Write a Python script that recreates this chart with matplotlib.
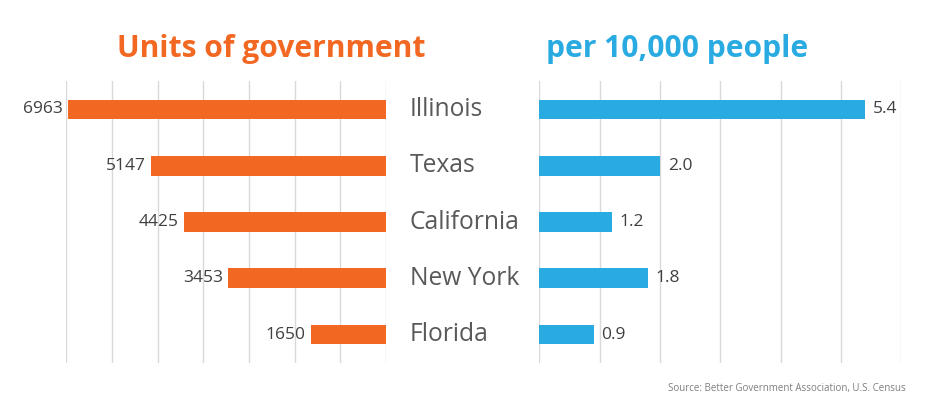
import numpy as np
import matplotlib
matplotlib.use("Agg")
import matplotlib.pyplot as plt

states = ["Illinois", "Texas", "California", "New York", "Florida"]
units = [6963, 5147, 4425, 3453, 1650]
per_10k = [5.4, 2.0, 1.2, 1.8, 0.9]

orange = "#F26822"
blue = "#29ABE2"
grid_col = "#D9D9D9"
label_col = "#404040"
state_col = "#595959"

plt.rcParams["font.family"] = ["Open Sans", "DejaVu Sans"]

fig = plt.figure(figsize=(9.38, 3.98), dpi=100)
ax_l = fig.add_axes([0.0707, 0.0887, 0.3408, 0.707])
ax_r = fig.add_axes([0.5749, 0.0887, 0.3859, 0.707])

y = np.arange(len(states))

ax_l.barh(y, units, height=0.35, color=orange, zorder=3)
ax_l.set_xlim(7000, 0)
ax_l.set_xticks(np.arange(0, 7001, 1000))

ax_r.barh(y, per_10k, height=0.35, color=blue, zorder=3)
ax_r.set_xlim(0, 6)
ax_r.set_xticks(np.arange(0, 7, 1))

for ax in (ax_l, ax_r):
    ax.set_ylim(len(states) - 0.5, -0.5)
    ax.grid(axis="x", color=grid_col, linewidth=1, zorder=0)
    ax.tick_params(left=False, bottom=False, labelleft=False, labelbottom=False)
    for s in ax.spines.values():
        s.set_visible(False)

for i, v in enumerate(units):
    ax_l.annotate(str(v), xy=(v, i), xytext=(-5, 0), textcoords="offset pixels",
                  ha="right", va="center", fontsize=12.5, color=label_col)
    ax_l.annotate(states[i], xy=(0, i), xytext=(24, 0), textcoords="offset pixels",
                  ha="left", va="center", fontsize=17.7, color=state_col)

for i, v in enumerate(per_10k):
    ax_r.annotate(f"{v:.1f}", xy=(v, i), xytext=(8, 0), textcoords="offset pixels",
                  ha="left", va="center", fontsize=12.5, color=label_col)

fig.text(271 / 938, 1 - 56.7 / 398, "Units of government", ha="center", va="baseline",
         fontsize=21.6, fontweight="bold", color=orange)
fig.text(546 / 938, 1 - 56.7 / 398, "per 10,000 people", ha="left", va="baseline",
         fontsize=21.6, fontweight="bold", color=blue)
fig.text(906 / 938, 1 - 389 / 398, "Source: Better Government Association, U.S. Census",
         ha="right", va="center", fontsize=7, color="#7F7F7F")

fig.savefig("out.png", dpi=100)
